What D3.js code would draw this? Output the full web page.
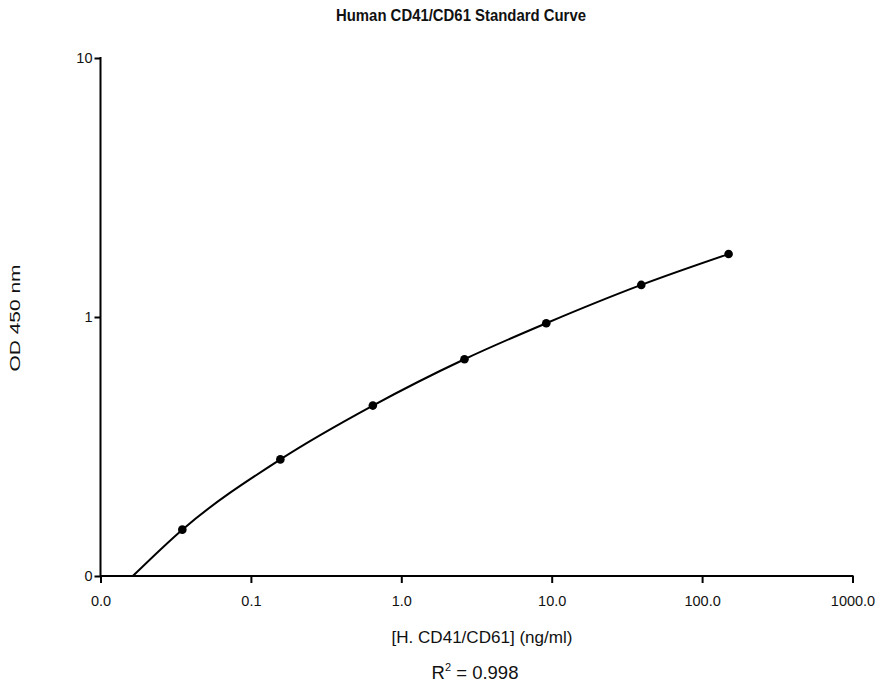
<!DOCTYPE html>
<html><head><meta charset="utf-8">
<script src="https://cdn.jsdelivr.net/npm/d3@7"></script>
<style>body{margin:0;background:#fff}svg{display:block}text{font-family:"Liberation Sans",Arial,sans-serif;fill:#111}</style>
</head><body>
<svg id="c" width="876" height="685"></svg>
<script>
const concentrations = [0.035, 0.157, 0.647, 2.63, 9.2, 39.4, 150];
const odValues = [0.151, 0.282, 0.455, 0.687, 0.946, 1.33, 1.75];
const curveX = [0.0164, 0.035, 0.157, 0.647, 2.63, 9.2, 39.4, 150];
const curveY = [0.1, 0.151, 0.282, 0.455, 0.687, 0.946, 1.33, 1.75];
const xTicks = [0.01, 0.1, 1, 10, 100, 1000];
const xTickLabels = ["0.0", "0.1", "1.0", "10.0", "100.0", "1000.0"];
const yTicks = [0.1, 1, 10];
const yTickLabels = ["0", "1", "10"];

const svg = d3.select("#c");
const x = d3.scaleLog().domain([0.01, 1000]).range([100.5, 852.5]);
const y = d3.scaleLog().domain([0.1, 10]).range([576, 58]);

const xAxis = d3.axisBottom(x).tickValues(xTicks).tickFormat((d,i)=>xTickLabels[i]).tickSize(7).tickSizeOuter(0).tickPadding(13);
const gx = svg.append("g").attr("transform","translate(0,576)").call(xAxis);
const yAxis = d3.axisLeft(y).tickValues(yTicks).tickFormat((d,i)=>yTickLabels[i]).tickSize(6).tickSizeOuter(0).tickPadding(2);
const gy = svg.append("g").attr("transform","translate(100.5,0)").call(yAxis);
[gx,gy].forEach(g=>{
  g.select(".domain").attr("stroke","#000").attr("stroke-width",2);
  g.selectAll(".tick line").attr("stroke","#000").attr("stroke-width",2);
  g.selectAll(".tick text").attr("font-size",14.5).attr("fill","#111").attr("font-family","Liberation Sans, Arial, sans-serif");
});
gx.selectAll(".tick text").attr("dy","0.71em");
gx.select(".domain").attr("d","M100.5,0H853.5");
gy.select(".domain").attr("d","M0,57V577");

const line = d3.line().x((d,i)=>x(curveX[i])).y((d,i)=>y(curveY[i])).curve(d3.curveMonotoneX);
svg.append("path").attr("d", line(curveX)).attr("fill","none").attr("stroke","#000").attr("stroke-width",2);

svg.selectAll("circle.pt").data(concentrations).join("circle").attr("class","pt")
  .attr("cx",d=>x(d)).attr("cy",(d,i)=>y(odValues[i])).attr("r",4.3).attr("fill","#000");

svg.append("text").attr("x",461).attr("y",20.5).attr("text-anchor","middle").attr("font-weight","bold").attr("font-size",17).attr("textLength",250).attr("lengthAdjust","spacingAndGlyphs").text("Human CD41/CD61 Standard Curve");
svg.append("text").attr("x",482).attr("y",643).attr("text-anchor","middle").attr("font-size",16.5).attr("textLength",181).attr("lengthAdjust","spacingAndGlyphs").text("[H. CD41/CD61] (ng/ml)");
const r = svg.append("text").attr("x",475).attr("y",679).attr("text-anchor","middle").attr("font-size",18.5);
r.append("tspan").text("R");
r.append("tspan").attr("font-size",11).attr("dy",-8).text("2");
r.append("tspan").attr("dy",8).text(" = 0.998");
svg.append("text").attr("transform","translate(19.5,318) rotate(-90)").attr("text-anchor","middle").attr("font-family","DejaVu Sans, sans-serif").attr("font-size",15.5).attr("textLength",107).attr("lengthAdjust","spacingAndGlyphs").text("OD 450 nm");
</script>
</body></html>
